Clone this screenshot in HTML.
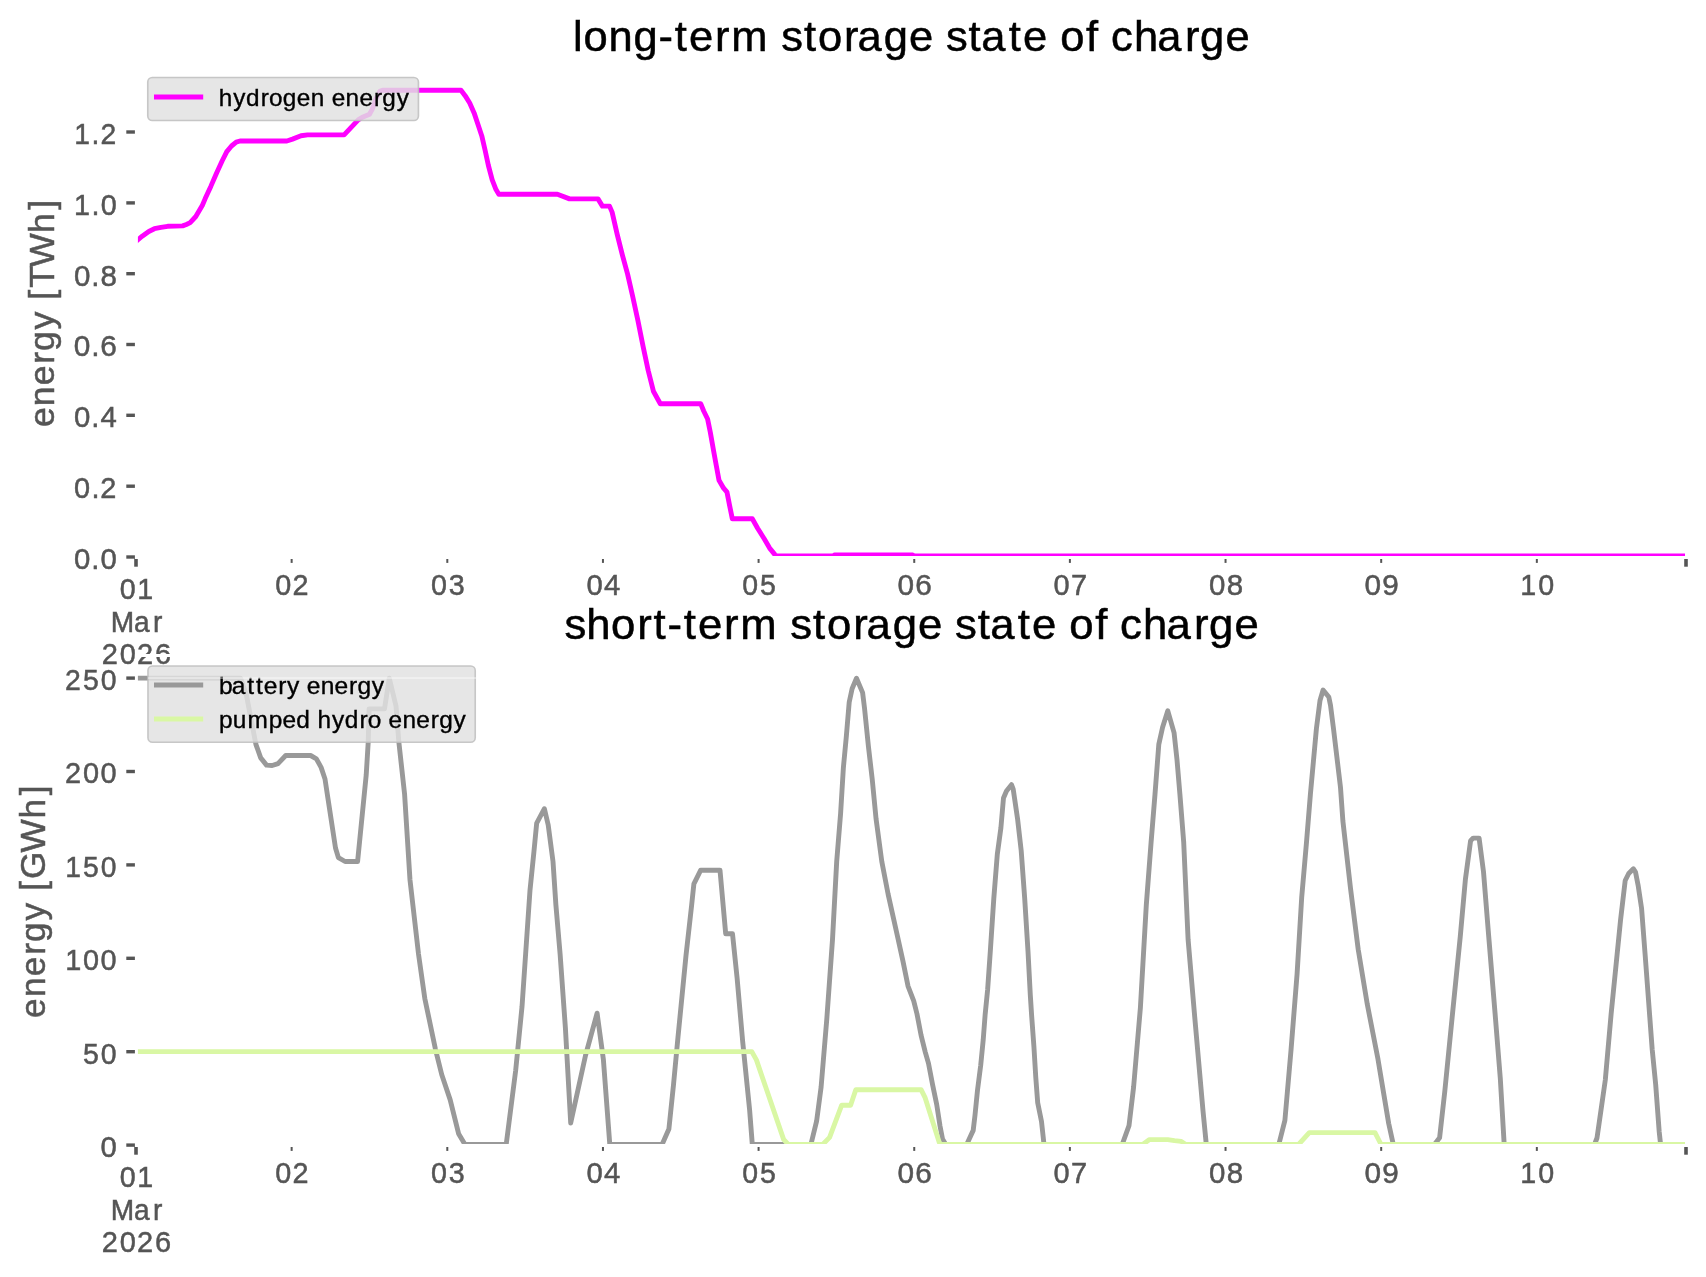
<!DOCTYPE html>
<html><head><meta charset="utf-8"><title>storage state of charge</title><style>
html,body{margin:0;padding:0;background:#fff;overflow:hidden;}
svg{display:block;will-change:transform;}
text{font-family:"Liberation Sans",sans-serif;}
</style></head><body>
<svg width="1706" height="1277" viewBox="0 0 1706 1277">
<rect x="0" y="0" width="1706" height="1277" fill="#ffffff"/>
<defs>
<clipPath id="ct"><rect x="136.4" y="67.5" width="1550.1" height="490"/></clipPath>
<clipPath id="cb"><rect x="136.4" y="655.3" width="1550.1" height="490"/></clipPath>
</defs>
<g>
<polyline clip-path="url(#ct)" points="133.0,243.3 136.0,241.5 138.3,239.5 142.2,236.2 148.8,231.5 154.4,228.7 161.0,227.3 167.6,226.3 182.6,225.9 186.4,224.5 190.2,222.6 195.8,216.5 202.4,205.2 205.2,198.6 210.8,186.4 216.5,173.2 222.1,161.0 226.8,151.6 231.5,146.0 236.2,142.2 240.0,141.0 286.9,141.0 292.5,139.1 301.0,135.8 307.5,134.9 344.1,134.9 350.7,127.8 358.2,119.9 361.9,117.5 369.5,114.2 372.3,109.1 376.0,98.8 379.8,91.3 382.6,90.2 461.0,90.2 465.3,95.9 469.7,103.0 474.1,112.9 478.5,126.0 481.8,135.9 485.1,150.2 488.4,165.5 492.2,179.8 496.0,189.6 498.8,194.2 557.4,194.2 569.5,198.9 598.0,198.9 602.4,206.1 609.5,206.1 612.1,212.1 617.2,234.4 622.4,255.1 627.6,274.1 632.7,296.5 637.9,320.6 643.1,346.4 648.2,370.5 653.4,391.2 660.3,403.8 700.8,403.8 703.7,411.0 707.6,419.0 710.3,432.3 713.6,450.9 716.3,465.6 719.0,480.2 723.6,488.2 727.0,492.2 729.6,505.5 732.3,518.8 752.3,518.8 757.6,528.2 764.2,538.8 769.6,548.1 774.9,554.6 776.5,556.0 833.6,556.0 834.5,555.0 912.8,555.0 914.5,556.0 1690.0,556.0" fill="none" stroke="#ff00ff" stroke-width="4.9" stroke-linejoin="round" stroke-linecap="butt"/>
<line x1="126.3" y1="132.00" x2="136" y2="132.00" stroke="#555555" stroke-width="3.4"/>
<line x1="126.3" y1="202.90" x2="136" y2="202.90" stroke="#555555" stroke-width="3.4"/>
<line x1="126.3" y1="273.70" x2="136" y2="273.70" stroke="#555555" stroke-width="3.4"/>
<line x1="126.3" y1="344.50" x2="136" y2="344.50" stroke="#555555" stroke-width="3.4"/>
<line x1="126.3" y1="415.30" x2="136" y2="415.30" stroke="#555555" stroke-width="3.4"/>
<line x1="126.3" y1="486.20" x2="136" y2="486.20" stroke="#555555" stroke-width="3.4"/>
<line x1="126.3" y1="557.00" x2="136" y2="557.00" stroke="#555555" stroke-width="3.4"/>
<line x1="136" y1="557.0" x2="136" y2="566.7" stroke="#555555" stroke-width="3.6"/>
<line x1="1686" y1="557.0" x2="1686" y2="566.7" stroke="#555555" stroke-width="3.6"/>
<line x1="291.65" y1="557.0" x2="291.65" y2="562.9" stroke="#555555" stroke-width="2"/>
<line x1="447.30" y1="557.0" x2="447.30" y2="562.9" stroke="#555555" stroke-width="2"/>
<line x1="602.95" y1="557.0" x2="602.95" y2="562.9" stroke="#555555" stroke-width="2"/>
<line x1="758.59" y1="557.0" x2="758.59" y2="562.9" stroke="#555555" stroke-width="2"/>
<line x1="914.24" y1="557.0" x2="914.24" y2="562.9" stroke="#555555" stroke-width="2"/>
<line x1="1069.89" y1="557.0" x2="1069.89" y2="562.9" stroke="#555555" stroke-width="2"/>
<line x1="1225.54" y1="557.0" x2="1225.54" y2="562.9" stroke="#555555" stroke-width="2"/>
<line x1="1381.19" y1="557.0" x2="1381.19" y2="562.9" stroke="#555555" stroke-width="2"/>
<line x1="1536.84" y1="557.0" x2="1536.84" y2="562.9" stroke="#555555" stroke-width="2"/>
<path d="M136.4,67.50H1686.5M136.4,557.50H1686.5M136.4,67.50V557.50M1686.5,67.50V557.50" fill="none" stroke="#ffffff" stroke-width="3.0" stroke-linecap="square"/>
<text transform="translate(73.32,143.90) scale(0.9623,1)" x="0.86 18.86 28.16" y="0" font-size="29.4" fill="#555555" stroke="#555555" stroke-width="0.5">1.2</text>
<text transform="translate(73.32,214.80) scale(0.9793,1)" x="0.70 18.46 27.91" y="0" font-size="29.4" fill="#555555" stroke="#555555" stroke-width="0.5">1.0</text>
<text transform="translate(73.32,285.60) scale(1.0033,1)" x="0.63 17.92 27.04" y="0" font-size="29.4" fill="#555555" stroke="#555555" stroke-width="0.5">0.8</text>
<text transform="translate(73.32,356.40) scale(1.0140,1)" x="0.53 17.69 26.67" y="0" font-size="29.4" fill="#555555" stroke="#555555" stroke-width="0.5">0.6</text>
<text transform="translate(73.32,427.20) scale(0.9984,1)" x="0.67 18.03 27.21" y="0" font-size="29.4" fill="#555555" stroke="#555555" stroke-width="0.5">0.4</text>
<text transform="translate(73.32,498.10) scale(0.9826,1)" x="0.81 18.38 27.41" y="0" font-size="29.4" fill="#555555" stroke="#555555" stroke-width="0.5">0.2</text>
<text transform="translate(73.32,568.90) scale(0.9984,1)" x="0.67 18.03 27.22" y="0" font-size="29.4" fill="#555555" stroke="#555555" stroke-width="0.5">0.0</text>
<text transform="translate(118.93,598.50) scale(0.9748,1)" x="0.88 18.87" y="0" font-size="29.4" fill="#555555" stroke="#555555" stroke-width="0.5">01</text>
<text transform="translate(110.39,631.50) scale(0.9558,1)" x="0.30 24.73 44.55" y="0" font-size="29.4" fill="#555555" stroke="#555555" stroke-width="0.5">Mar</text>
<text transform="translate(101.25,663.60) scale(0.9870,1)" x="0.40 18.68 36.21 54.49" y="0" font-size="29.4" fill="#555555" stroke="#555555" stroke-width="0.5">2026</text>
<text transform="translate(274.47,594.60) scale(0.9785,1)" x="0.85 18.54" y="0" font-size="29.4" fill="#555555" stroke="#555555" stroke-width="0.5">02</text>
<text transform="translate(430.12,594.60) scale(0.9764,1)" x="0.87 19.01" y="0" font-size="29.4" fill="#555555" stroke="#555555" stroke-width="0.5">03</text>
<text transform="translate(585.77,594.60) scale(0.9961,1)" x="0.69 18.43" y="0" font-size="29.4" fill="#555555" stroke="#555555" stroke-width="0.5">04</text>
<text transform="translate(741.42,594.60) scale(0.9682,1)" x="0.95 19.09" y="0" font-size="29.4" fill="#555555" stroke="#555555" stroke-width="0.5">05</text>
<text transform="translate(897.07,594.60) scale(1.0132,1)" x="0.54 17.99" y="0" font-size="29.4" fill="#555555" stroke="#555555" stroke-width="0.5">06</text>
<text transform="translate(1052.72,594.60) scale(0.9855,1)" x="0.79 18.66" y="0" font-size="29.4" fill="#555555" stroke="#555555" stroke-width="0.5">07</text>
<text transform="translate(1208.37,594.60) scale(1.0014,1)" x="0.64 18.29" y="0" font-size="29.4" fill="#555555" stroke="#555555" stroke-width="0.5">08</text>
<text transform="translate(1364.01,594.60) scale(1.0121,1)" x="0.55 17.92" y="0" font-size="29.4" fill="#555555" stroke="#555555" stroke-width="0.5">09</text>
<text transform="translate(1519.66,594.60) scale(0.9748,1)" x="0.74 19.01" y="0" font-size="29.4" fill="#555555" stroke="#555555" stroke-width="0.5">10</text>
<text transform="translate(53.90,427.34) rotate(-90) scale(1.0314,1)" x="0.38 20.57 40.74 61.73 73.97 94.94 113.16 123.65 135.35 155.42 188.37 210.99" y="0" font-size="34.6" fill="#555555" stroke="#555555" stroke-width="0.5">energy [TWh]</text>
<text transform="translate(572.23,50.80) scale(1.0353,1)" x="0.70 10.88 35.02 59.23 83.36 98.96 112.76 137.90 153.56 189.77 201.89 223.81 237.48 262.62 275.52 300.89 325.34 348.82 360.95 382.87 395.06 421.69 435.49 458.98 471.41 496.35 508.50 520.43 542.61 565.18 591.85 606.44 630.88" y="0" font-size="42.0" fill="#000000" stroke="#000000" stroke-width="0.5">long-term storage state of charge</text>
<rect x="147.75" y="77.55" width="270.70" height="42.90" rx="4.5" ry="4.5" fill="#e1e1e1" fill-opacity="0.84" stroke="#bdbdbd" stroke-opacity="0.84" stroke-width="1.6"/>
<line x1="154" y1="97.0" x2="203.2" y2="97.0" stroke="#ff00ff" stroke-width="4.9"/>
<text transform="translate(218.58,105.70) scale(1.0454,1)" x="0.27 13.93 26.20 40.42 48.31 61.44 74.88 88.16 101.33 108.19 121.47 134.74 148.59 156.60 170.40" y="0" font-size="23.3" fill="#000000" stroke="#000000" stroke-width="0.35">hydrogen energy</text>
</g>
<g>
<polyline clip-path="url(#cb)" points="132.0,678.1 240.6,678.2 246.3,694.5 251.1,719.5 255.9,744.4 260.7,757.9 266.5,765.1 272.2,765.5 278.0,763.6 285.7,755.5 310.6,755.5 316.4,758.8 321.1,767.4 325.0,779.0 327.9,798.1 335.5,848.0 338.4,857.6 345.1,861.5 357.6,861.5 366.2,775.1 368.2,742.5 369.1,708.9 384.5,708.9 389.3,678.2 396.0,706.0 398.9,742.5 404.6,794.3 410.0,880.0 418.5,954.0 424.8,998.4 435.4,1049.1 441.7,1074.5 450.2,1099.9 458.6,1133.7 465.0,1144.5 506.2,1144.5 515.7,1070.3 522.0,1006.8 530.0,890.2 533.9,851.9 536.7,823.1 544.4,808.7 548.2,825.0 553.0,861.5 555.9,905.0 560.1,954.0 565.4,1028.0 570.7,1123.1 585.5,1055.5 597.1,1013.2 603.4,1059.7 609.8,1144.5 662.1,1144.5 668.9,1129.1 673.5,1084.8 678.0,1037.1 686.0,955.4 691.6,905.4 693.9,883.8 700.7,870.2 720.0,870.2 725.7,933.8 732.5,933.8 737.1,978.1 742.7,1041.7 749.6,1109.8 752.3,1144.5 810.9,1144.5 816.6,1121.2 821.1,1087.1 826.8,1019.0 832.5,939.5 836.7,861.5 840.6,813.5 843.4,767.4 846.3,736.7 849.2,702.2 852.1,688.8 856.5,678.2 862.6,692.6 864.5,708.0 868.4,746.3 872.2,779.0 876.1,819.2 881.8,861.5 888.1,894.1 897.2,935.0 903.0,961.4 908.0,986.1 913.7,1000.9 917.0,1014.0 921.1,1035.4 925.2,1051.8 928.5,1063.4 932.6,1084.7 936.7,1104.5 940.0,1125.9 942.5,1139.0 945.8,1144.5 966.7,1144.5 973.2,1130.4 975.0,1115.3 977.5,1090.3 980.7,1065.2 983.2,1040.1 985.1,1015.1 987.6,990.0 990.3,951.4 993.8,898.5 997.3,854.4 1000.9,827.9 1003.5,797.9 1006.5,791.0 1011.5,784.7 1013.2,789.1 1017.6,819.1 1021.2,850.8 1024.7,898.5 1028.0,951.4 1030.3,995.0 1031.6,1015.1 1033.9,1046.4 1035.8,1077.7 1037.7,1102.8 1041.5,1121.6 1044.0,1144.5 1122.2,1144.5 1129.0,1125.7 1133.6,1087.1 1140.4,1007.6 1146.3,905.0 1151.1,842.3 1155.0,794.3 1158.8,744.4 1162.6,727.2 1167.8,710.8 1174.1,732.9 1177.0,759.8 1179.9,794.3 1183.7,842.3 1188.1,939.5 1194.9,1019.0 1202.9,1109.8 1206.3,1144.5 1278.8,1144.5 1284.9,1120.4 1291.0,1050.2 1297.1,973.8 1301.7,897.4 1306.5,842.3 1310.4,794.3 1316.4,728.7 1320.0,700.5 1323.1,690.0 1328.8,697.0 1330.5,705.2 1333.5,728.7 1337.0,758.1 1340.5,787.5 1342.9,821.1 1350.5,888.3 1358.2,949.4 1367.3,1004.3 1378.0,1059.3 1384.1,1096.0 1388.7,1123.5 1393.3,1144.5 1434.4,1144.5 1439.6,1137.8 1444.8,1091.3 1452.5,1013.8 1460.3,936.3 1465.4,879.4 1470.6,840.7 1473.2,838.1 1479.1,838.1 1483.5,871.7 1488.7,936.3 1495.1,1013.8 1500.3,1078.4 1504.2,1144.5 1594.5,1144.5 1597.0,1138.0 1600.6,1112.9 1605.3,1080.0 1611.1,1014.3 1615.8,967.4 1620.5,920.4 1625.2,880.5 1628.7,873.5 1633.4,868.8 1635.5,872.0 1638.1,885.2 1641.6,908.7 1645.2,955.6 1648.7,1002.6 1652.2,1049.5 1655.7,1084.7 1659.2,1131.7 1660.6,1144.5 1690.0,1144.5" fill="none" stroke="#999999" stroke-width="4.9" stroke-linejoin="round" stroke-linecap="butt"/>
<polyline clip-path="url(#cb)" points="132.0,1051.6 751.8,1051.6 756.4,1059.9 783.6,1139.4 788.2,1144.5 822.7,1144.5 829.6,1137.4 841.7,1105.2 850.6,1105.2 855.8,1089.8 921.1,1089.7 925.2,1097.9 939.2,1142.3 940.5,1144.5 1142.7,1144.5 1149.5,1139.6 1167.7,1139.6 1174.5,1140.6 1181.3,1141.4 1185.8,1144.5 1298.6,1144.5 1309.3,1132.6 1375.0,1132.6 1381.1,1144.5 1690.0,1144.5" fill="none" stroke="#d9f7a4" stroke-width="4.9" stroke-linejoin="round" stroke-linecap="butt"/>
<line x1="126.3" y1="678.10" x2="136" y2="678.10" stroke="#555555" stroke-width="3.4"/>
<line x1="126.3" y1="771.50" x2="136" y2="771.50" stroke="#555555" stroke-width="3.4"/>
<line x1="126.3" y1="864.90" x2="136" y2="864.90" stroke="#555555" stroke-width="3.4"/>
<line x1="126.3" y1="958.30" x2="136" y2="958.30" stroke="#555555" stroke-width="3.4"/>
<line x1="126.3" y1="1051.70" x2="136" y2="1051.70" stroke="#555555" stroke-width="3.4"/>
<line x1="126.3" y1="1145.10" x2="136" y2="1145.10" stroke="#555555" stroke-width="3.4"/>
<line x1="136" y1="1145.0" x2="136" y2="1154.7" stroke="#555555" stroke-width="3.6"/>
<line x1="1686" y1="1145.0" x2="1686" y2="1154.7" stroke="#555555" stroke-width="3.6"/>
<line x1="291.65" y1="1145.0" x2="291.65" y2="1150.9" stroke="#555555" stroke-width="2"/>
<line x1="447.30" y1="1145.0" x2="447.30" y2="1150.9" stroke="#555555" stroke-width="2"/>
<line x1="602.95" y1="1145.0" x2="602.95" y2="1150.9" stroke="#555555" stroke-width="2"/>
<line x1="758.59" y1="1145.0" x2="758.59" y2="1150.9" stroke="#555555" stroke-width="2"/>
<line x1="914.24" y1="1145.0" x2="914.24" y2="1150.9" stroke="#555555" stroke-width="2"/>
<line x1="1069.89" y1="1145.0" x2="1069.89" y2="1150.9" stroke="#555555" stroke-width="2"/>
<line x1="1225.54" y1="1145.0" x2="1225.54" y2="1150.9" stroke="#555555" stroke-width="2"/>
<line x1="1381.19" y1="1145.0" x2="1381.19" y2="1150.9" stroke="#555555" stroke-width="2"/>
<line x1="1536.84" y1="1145.0" x2="1536.84" y2="1150.9" stroke="#555555" stroke-width="2"/>
<path d="M136.4,655.50H1686.5M136.4,1145.50H1686.5M136.4,655.50V1145.50M1686.5,655.50V1145.50" fill="none" stroke="#ffffff" stroke-width="3.0" stroke-linecap="square"/>
<text transform="translate(64.48,690.00) scale(0.9655,1)" x="0.59 19.16 37.58" y="0" font-size="29.4" fill="#555555" stroke="#555555" stroke-width="0.5">250</text>
<text transform="translate(64.48,783.40) scale(0.9844,1)" x="0.42 18.75 36.70" y="0" font-size="29.4" fill="#555555" stroke="#555555" stroke-width="0.5">200</text>
<text transform="translate(64.48,876.80) scale(0.9629,1)" x="0.85 19.24 37.71" y="0" font-size="29.4" fill="#555555" stroke="#555555" stroke-width="0.5">150</text>
<text transform="translate(64.48,970.20) scale(0.9821,1)" x="0.67 18.81 36.81" y="0" font-size="29.4" fill="#555555" stroke="#555555" stroke-width="0.5">100</text>
<text transform="translate(82.15,1063.60) scale(0.9682,1)" x="0.83 19.20" y="0" font-size="29.4" fill="#555555" stroke="#555555" stroke-width="0.5">50</text>
<text transform="translate(99.83,1157.00) scale(0.9961,1)" x="0.69" y="0" font-size="29.4" fill="#555555" stroke="#555555" stroke-width="0.5">0</text>
<text transform="translate(118.93,1186.50) scale(0.9748,1)" x="0.88 18.87" y="0" font-size="29.4" fill="#555555" stroke="#555555" stroke-width="0.5">01</text>
<text transform="translate(110.39,1219.50) scale(0.9558,1)" x="0.30 24.73 44.55" y="0" font-size="29.4" fill="#555555" stroke="#555555" stroke-width="0.5">Mar</text>
<text transform="translate(101.25,1251.60) scale(0.9870,1)" x="0.40 18.68 36.21 54.49" y="0" font-size="29.4" fill="#555555" stroke="#555555" stroke-width="0.5">2026</text>
<text transform="translate(274.47,1182.60) scale(0.9785,1)" x="0.85 18.54" y="0" font-size="29.4" fill="#555555" stroke="#555555" stroke-width="0.5">02</text>
<text transform="translate(430.12,1182.60) scale(0.9764,1)" x="0.87 19.01" y="0" font-size="29.4" fill="#555555" stroke="#555555" stroke-width="0.5">03</text>
<text transform="translate(585.77,1182.60) scale(0.9961,1)" x="0.69 18.43" y="0" font-size="29.4" fill="#555555" stroke="#555555" stroke-width="0.5">04</text>
<text transform="translate(741.42,1182.60) scale(0.9682,1)" x="0.95 19.09" y="0" font-size="29.4" fill="#555555" stroke="#555555" stroke-width="0.5">05</text>
<text transform="translate(897.07,1182.60) scale(1.0132,1)" x="0.54 17.99" y="0" font-size="29.4" fill="#555555" stroke="#555555" stroke-width="0.5">06</text>
<text transform="translate(1052.72,1182.60) scale(0.9855,1)" x="0.79 18.66" y="0" font-size="29.4" fill="#555555" stroke="#555555" stroke-width="0.5">07</text>
<text transform="translate(1208.37,1182.60) scale(1.0014,1)" x="0.64 18.29" y="0" font-size="29.4" fill="#555555" stroke="#555555" stroke-width="0.5">08</text>
<text transform="translate(1364.01,1182.60) scale(1.0121,1)" x="0.55 17.92" y="0" font-size="29.4" fill="#555555" stroke="#555555" stroke-width="0.5">09</text>
<text transform="translate(1519.66,1182.60) scale(0.9748,1)" x="0.74 19.01" y="0" font-size="29.4" fill="#555555" stroke="#555555" stroke-width="0.5">10</text>
<text transform="translate(45.00,1018.44) rotate(-90) scale(1.0172,1)" x="0.52 20.99 41.45 62.69 75.14 96.39 114.75 125.47 137.19 163.20 196.52 219.37" y="0" font-size="34.6" fill="#555555" stroke="#555555" stroke-width="0.5">energy [GWh]</text>
<text transform="translate(564.83,638.90) scale(1.0406,1)" x="-0.21 20.55 44.48 69.52 85.31 98.73 114.25 127.96 152.99 168.52 204.63 216.64 238.47 252.04 277.08 289.89 315.14 339.46 362.88 374.89 396.72 408.82 435.35 449.06 472.48 484.79 509.63 521.75 533.57 555.63 578.09 604.64 619.14 643.46" y="0" font-size="42.0" fill="#000000" stroke="#000000" stroke-width="0.5">short-term storage state of charge</text>
<rect x="147.95" y="666.05" width="327.30" height="76.20" rx="4.5" ry="4.5" fill="#e1e1e1" fill-opacity="0.84" stroke="#bdbdbd" stroke-opacity="0.84" stroke-width="1.6"/>
<line x1="154" y1="685.0" x2="203.2" y2="685.0" stroke="#999999" stroke-width="4.9"/>
<text transform="translate(218.58,693.80) scale(1.0552,1)" x="0.32 12.52 27.10 35.36 42.83 56.57 64.80 76.86 83.60 96.75 109.90 123.64 131.56 145.24" y="0" font-size="23.3" fill="#000000" stroke="#000000" stroke-width="0.35">battery energy</text>
<line x1="154" y1="719.0" x2="203.2" y2="719.0" stroke="#d9f7a4" stroke-width="4.9"/>
<text transform="translate(218.58,727.60) scale(1.0482,1)" x="0.37 13.65 27.57 47.91 61.08 74.17 87.49 94.48 108.11 120.34 134.53 142.39 155.35 162.17 175.41 188.65 202.47 210.45 224.22" y="0" font-size="23.3" fill="#000000" stroke="#000000" stroke-width="0.35">pumped hydro energy</text>
</g>
<rect x="148.0" y="677.1" width="328.6" height="1.9" fill="#ffffff" fill-opacity="0.4"/>
</svg></body></html>
